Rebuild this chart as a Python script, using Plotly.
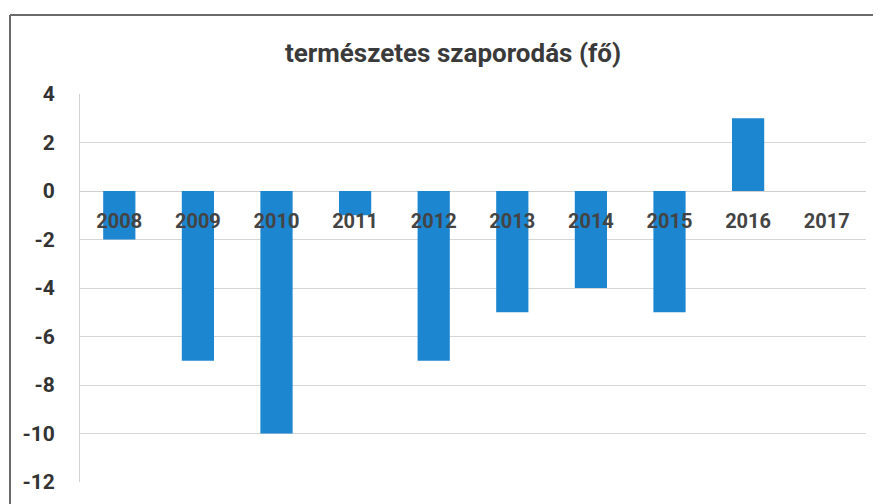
import plotly.graph_objects as go

years = ["2008", "2009", "2010", "2011", "2012", "2013", "2014", "2015", "2016", "2017"]
values = [-2, -7, -10, -1, -7, -5, -4, -5, 3, 0]
y_ticks = [4, 2, 0, -2, -4, -6, -8, -10, -12]

# page body has an 8px offset; layout coordinates compensate for it
OFF = 8
W, H = 881, 504
ml, mr, mt, mb = 80 - OFF, 15 + OFF, 94 - OFF, 22 + OFF
ymin, ymax = -12, 4
zero_pos = (0 - ymin) / (ymax - ymin)

fnt = "Roboto, Liberation Sans, sans-serif"

fig = go.Figure()
fig.add_trace(go.Bar(x=years, y=values, marker=dict(color="#1C86D1", line=dict(width=0)),
                     width=0.41, showlegend=False))

pw = W - ml - mr
ph = H - mt - mb
fx = ((10 - OFF) - ml) / pw
fy = (H - mb - (15 - OFF)) / ph

fig.update_layout(
    width=W, height=H,
    margin=dict(l=ml, r=mr, t=mt, b=mb, autoexpand=False),
    paper_bgcolor="white", plot_bgcolor="white",
    title=dict(text="<b>természetes szaporodás (fő)</b>", x=(453 - OFF) / W, xref="container",
               xanchor="center",
               y=1 - (53 - OFF) / H, yref="container", yanchor="middle",
               font=dict(family=fnt, size=26, color="#3a3a3a")),
    xaxis=dict(type="category", anchor="free", position=zero_pos, showline=False,
               showgrid=False, ticks="", ticklabelstandoff=16, automargin=False,
               tickfont=dict(family=fnt, size=20, color="#444444", weight="bold")),
    yaxis=dict(range=[ymin, ymax], tickvals=y_ticks, ticktext=[str(v) for v in y_ticks],
               showgrid=True, gridcolor="#d6d6d6", gridwidth=1,
               zeroline=True, zerolinecolor="#cfcfcf", zerolinewidth=1,
               showline=True, linecolor="#d0d0d0", linewidth=1,
               ticks="", ticklabelstandoff=20, automargin=False,
               tickfont=dict(family=fnt, size=21, color="#333333", weight="bold")),
    shapes=[
        dict(type="line", xref="paper", yref="paper", x0=fx, x1=1.05, y0=fy, y1=fy,
             line=dict(color="#6a6a6a", width=2)),
        dict(type="line", xref="paper", yref="paper", x0=fx, x1=fx, y0=-0.15, y1=fy,
             line=dict(color="#6a6a6a", width=2)),
    ],
)

fig.write_html("out.html")
